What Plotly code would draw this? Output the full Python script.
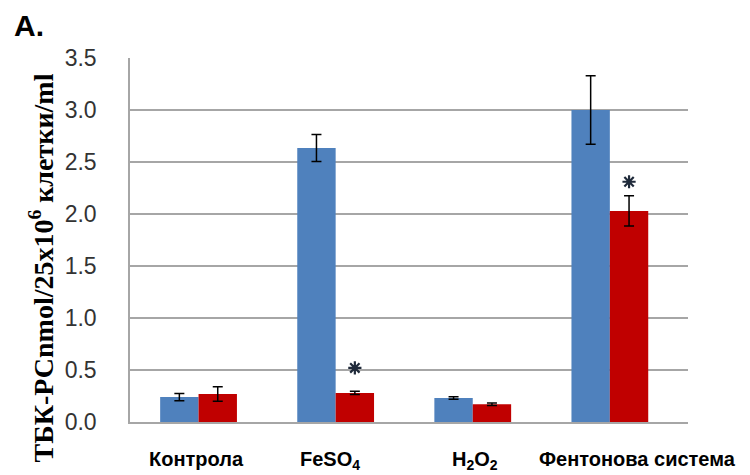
import plotly.graph_objects as go

# Groups and measured values (mean ± SD)
categories = ["Контрола", "FeSO<sub>4</sub>", "H<sub>2</sub>O<sub>2</sub>", "Фентонова система"]
series1_values = [0.24, 2.635, 0.23, 3.00]
series1_errors = [0.035, 0.13, 0.012, 0.33]
series2_values = [0.27, 0.28, 0.17, 2.03]
series2_errors = [0.07, 0.015, 0.012, 0.145]
# significance markers: group index and y position of the asterisk
significance_groups = [1, 3]
significance_y = [0.52, 2.31]
tick_values = [0.0, 0.5, 1.0, 1.5, 2.0, 2.5, 3.0, 3.5]

BLUE = "#4F81BD"
RED = "#C00000"
BARGAP = 0.44
idx = list(range(len(categories)))

W, H = 750, 475
ML, MR, MT, MB = 130, 62, 58, 53


def px_x(px):
    return (px - ML) / (W - ML - MR)


def px_y(px):
    return (H - MB - px) / (H - MT - MB)


fig = go.Figure()
fig.add_trace(go.Bar(
    x=idx, y=series1_values, marker=dict(color=BLUE, line=dict(width=0)),
    error_y=dict(type="data", array=series1_errors, color="black", thickness=1.5, width=5),
    showlegend=False,
))
fig.add_trace(go.Bar(
    x=idx, y=series2_values, marker=dict(color=RED, line=dict(width=0)),
    error_y=dict(type="data", array=series2_errors, color="black", thickness=1.5, width=5),
    showlegend=False,
))
# asterisks over the second series (centre of the right-hand bar in each group)
offset = (1 - BARGAP) / 4
fig.add_trace(go.Scatter(
    x=[g + offset for g in significance_groups], y=significance_y, mode="markers",
    marker=dict(symbol="asterisk-open", size=11, color="#1f2a3a",
                line=dict(color="#1f2a3a", width=2.2)),
    showlegend=False, hoverinfo="skip",
))

annotations = []
# category labels below the axis
label_shift = [-2, -6, 2, 28]
for i, (cat, sh) in enumerate(zip(categories, label_shift)):
    annotations.append(dict(
        x=i, y=0, xref="x", yref="paper", text="<b>" + cat + "</b>", showarrow=False,
        yanchor="top", yshift=-24, xshift=sh,
        font=dict(family="Liberation Sans", size=20, color="black"),
    ))

# y-axis title
annotations.append(dict(
    x=px_x(22), y=px_y(268), xref="paper", yref="paper", showarrow=False, textangle=-90,
    text="<b>ТБК-РСnmol/25x10<sup>6</sup> клетки/ml</b>",
    font=dict(family="Liberation Serif", size=28, color="black"),
))
# panel letter
annotations.append(dict(
    x=px_x(12), y=px_y(25), xref="paper", yref="paper", showarrow=False,
    xanchor="left", yanchor="middle",
    text="<b>A.</b>", font=dict(family="Liberation Sans", size=30, color="black"),
))

fig.update_layout(
    width=W, height=H,
    margin=dict(l=ML, r=MR, t=MT, b=MB),
    paper_bgcolor="white", plot_bgcolor="white",
    barmode="group", bargap=BARGAP, bargroupgap=0,
    annotations=annotations,
    xaxis=dict(
        range=[-0.5, 3.57], showticklabels=False, ticks="",
        showgrid=False, zeroline=False,
        showline=True, linecolor="#a6a6a6", linewidth=1.5,
    ),
    yaxis=dict(
        range=[0, 3.5], tickvals=tick_values, tickformat=".1f",
        showgrid=True, gridcolor="#a6a6a6", gridwidth=1.5,
        zeroline=False, showline=True, linecolor="#a6a6a6", linewidth=1.5,
        ticks="", ticklabelstandoff=27,
        tickfont=dict(family="Liberation Sans", size=23, color="#333333"),
    ),
)

fig.write_html("out.html")
